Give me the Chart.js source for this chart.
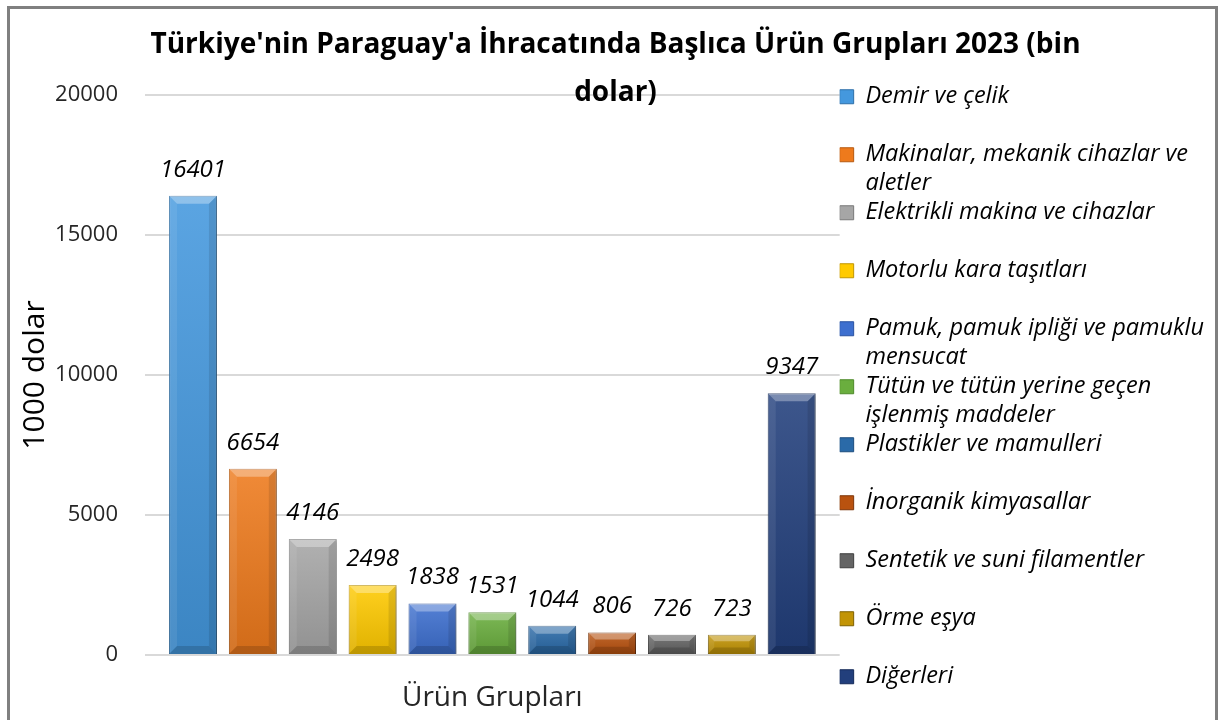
<!DOCTYPE html>
<html lang="tr">
<head>
<meta charset="utf-8">
<title>Türkiye'nin Paraguay'a İhracatı 2023</title>
<script src="https://cdn.jsdelivr.net/npm/chart.js@4.4.1/dist/chart.umd.min.js"></script>
<style>
  html, body { margin: 0; padding: 0; background: #fff; }
  #kutu { position: relative; width: 1219px; height: 720px; overflow: hidden; }
  #cerceve { position: absolute; left: 7px; top: 6px; width: 1205px; height: 760px; border: 3px solid #808080; pointer-events: none; }
</style>
</head>
<body>
<div id="kutu">
  <canvas id="grafik" width="1219" height="720"></canvas>
  <div id="cerceve"></div>
</div>
<script>
// Kategorija (jedna grupa na x osi)
const kategoriler = ['Ürün Grupları'];

// Nazivi grupa proizvoda (legenda, prelomljeno kao u originalu)
const urunGruplari = [
    ['Demir ve çelik', ''],
    ['Makinalar, mekanik cihazlar ve', 'aletler'],
    ['Elektrikli makina ve cihazlar', ''],
    ['Motorlu kara taşıtları', ''],
    ['Pamuk, pamuk ipliği ve pamuklu', 'mensucat'],
    ['Tütün ve tütün yerine geçen', 'işlenmiş maddeler'],
    ['Plastikler ve mamulleri', ''],
    ['İnorganik kimyasallar', ''],
    ['Sentetik ve suni filamentler', ''],
    ['Örme eşya', ''],
    'Diğerleri'
];

// Vrijednosti izvoza (bin dolar)
const ihracatDegerleri = [16401, 6654, 4146, 2498, 1838, 1531, 1044, 806, 726, 723, 9347];

// Boje stupaca
const renkler = ['#4498de', '#ee7a1c', '#a6a6a6', '#ffca00', '#3d6fcf', '#6aae3e',
                 '#2a6aa8', '#b9520f', '#646464', '#c29405', '#223f7c'];
const rubneBoje = ['#2e6fa8', '#b65a10', '#7a7a7a', '#c09600', '#2a52a0', '#4e8a2a',
                   '#1c4c7e', '#7e360a', '#3e3e3e', '#7e6000', '#142a58'];

// Oznake y osi
const yEksenTikleri = [0, 5000, 10000, 15000, 20000];

const font = '"Open Sans", "DejaVu Sans", sans-serif';

// Pomoćna funkcija za crtanje faseta
function faseta(ctx, tocke, boja) {
    ctx.beginPath();
    ctx.moveTo(tocke[0][0], tocke[0][1]);
    for (let i = 1; i < tocke.length; i++) ctx.lineTo(tocke[i][0], tocke[i][1]);
    ctx.closePath();
    ctx.fillStyle = boja;
    ctx.fill();
}

// 3D izgled stupaca + vrijednosti iznad njih
const stupciEklentisi = {
    id: 'stupci',
    beforeDatasetsDraw(chart) {
        const ctx = chart.ctx;
        ctx.save();
        ctx.shadowColor = 'rgba(0,0,0,0.25)';
        ctx.shadowBlur = 4;
        ctx.shadowOffsetX = 2;
        ctx.shadowOffsetY = 1;
    },
    afterDatasetsDraw(chart) {
        const ctx = chart.ctx;
        ctx.restore();
        chart.data.datasets.forEach((ds, i) => {
            const meta = chart.getDatasetMeta(i);
            if (meta.hidden) return;
            meta.data.forEach((bar, j) => {
                const p = bar.getProps(['x', 'y', 'width', 'base'], true);
                const l = p.x - p.width / 2, r = p.x + p.width / 2;
                const t = Math.min(p.y, p.base), b = Math.max(p.y, p.base);
                const k = Math.min(8, (b - t) / 3);
                ctx.save();
                const g = ctx.createLinearGradient(0, t, 0, b);
                g.addColorStop(0, 'rgba(255,255,255,0.12)');
                g.addColorStop(1, 'rgba(0,0,0,0.12)');
                ctx.fillStyle = g;
                ctx.fillRect(l, t, r - l, b - t);
                faseta(ctx, [[l, t], [r, t], [r - k, t + k], [l + k, t + k]], 'rgba(255,255,255,0.32)');
                faseta(ctx, [[l, t], [l + k, t + k], [l + k, b - k], [l, b]], 'rgba(255,255,255,0.08)');
                faseta(ctx, [[r, t], [r - k, t + k], [r - k, b - k], [r, b]], 'rgba(0,0,0,0.1)');
                faseta(ctx, [[l, b], [l + k, b - k], [r - k, b - k], [r, b]], 'rgba(0,0,0,0.15)');
                // vrijednost
                ctx.fillStyle = '#000';
                ctx.font = 'italic 24px ' + font;
                ctx.textAlign = 'center';
                ctx.textBaseline = 'middle';
                ctx.fillText(String(ds.data[j]), p.x, t - 26);
                ctx.restore();
            });
        });
    }
};

const skupovi = urunGruplari.map((naziv, i) => ({
    label: Array.isArray(naziv) ? naziv.filter(s => s).join(' ') : naziv,
    legendaTekst: naziv,
    data: [ihracatDegerleri[i]],
    backgroundColor: renkler[i],
    borderColor: rubneBoje[i],
    borderWidth: 1,
    barPercentage: 0.8,
    categoryPercentage: 0.948
}));

const ctx = document.getElementById('grafik').getContext('2d');
const grafik = new Chart(ctx, {
    type: 'bar',
    data: {
        labels: kategoriler,
        datasets: skupovi
    },
    options: {
        responsive: false,
        animation: false,
        devicePixelRatio: 1,
        layout: { padding: { left: 17, right: 5, top: 0, bottom: 0 } },
        plugins: {
            title: {
                display: true,
                text: ["Türkiye'nin Paraguay'a İhracatında Başlıca Ürün Grupları 2023 (bin", 'dolar)'],
                color: '#000',
                font: { family: font, size: 28, weight: 'bold', lineHeight: 48 / 28 },
                padding: { top: 21, bottom: -22 }
            },
            legend: {
                position: 'right',
                align: 'start',
                maxWidth: 420,
                title: { display: true, text: ' ', font: { size: 10 }, padding: { top: 0, bottom: 73 } },
                labels: {
                    boxWidth: 14,
                    boxHeight: 14,
                    padding: 0,
                    color: '#000',
                    font: { family: font, size: 23.5, style: 'italic', lineHeight: 29 / 23.5 },
                    generateLabels(chart) {
                        return chart.data.datasets.map((ds, i) => ({
                            text: ds.legendaTekst,
                            fillStyle: ds.backgroundColor,
                            strokeStyle: ds.borderColor,
                            lineWidth: 1,
                            fontColor: '#000',
                            hidden: !chart.isDatasetVisible(i),
                            datasetIndex: i
                        }));
                    }
                }
            },
            tooltip: { enabled: false }
        },
        scales: {
            x: {
                grid: { display: false },
                border: { display: false },
                ticks: { color: '#262626', padding: 18, font: { family: font, size: 28 } },
                afterFit(os) { os.height = 65; }
            },
            y: {
                min: yEksenTikleri[0],
                max: yEksenTikleri[yEksenTikleri.length - 1],
                ticks: {
                    stepSize: yEksenTikleri[1] - yEksenTikleri[0],
                    color: '#262626',
                    padding: 27,
                    font: { family: font, size: 22 },
                    callback: v => String(v)
                },
                grid: { color: '#d9d9d9', lineWidth: 2, drawTicks: false },
                border: { display: false },
                title: {
                    display: true,
                    text: '1000 dolar',
                    color: '#000',
                    padding: { top: 0, bottom: 0 },
                    font: { family: font, size: 30 }
                },
                afterFit(os) { os.width = 128; }
            }
        }
    },
    plugins: [stupciEklentisi]
});
</script>
</body>
</html>
